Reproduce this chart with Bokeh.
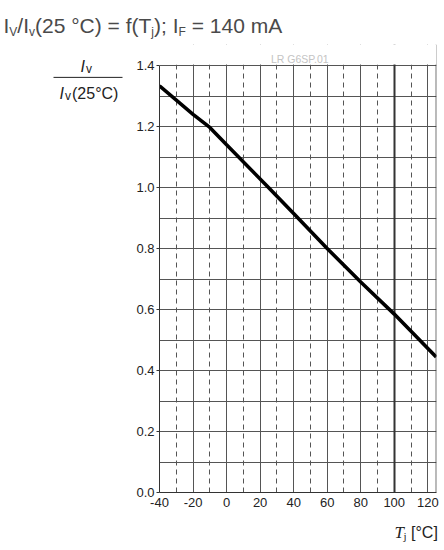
from bokeh.plotting import figure
from bokeh.layouts import column, row
from bokeh.models import (Label, Grid, FixedTicker, PrintfTickFormatter, Span,
                          BoxAnnotation, ColumnDataSource, Range1d)
from bokeh.core.properties import value
from bokeh.embed import file_html
from bokeh.resources import INLINE

# ---- data ----
t_j = [-40, -20, -10, 0, 25, 40, 60, 80, 100, 125]
iv_rel = [1.333, 1.24, 1.197, 1.14, 1.0, 0.915, 0.80, 0.69, 0.585, 0.444]
x_ticks = [-40, -20, 0, 20, 40, 60, 80, 100, 120]
x_dash = [-30, -10, 10, 30, 50, 70, 90, 110]
y_ticks = [0.0, 0.2, 0.4, 0.6, 0.8, 1.0, 1.2, 1.4]
y_grid = [0.1, 0.2, 0.3, 0.4, 0.5, 0.6, 0.7, 0.8, 0.9, 1.0, 1.1, 1.2, 1.3, 1.4]
x_lo, x_hi = -40, 125
y_lo, y_hi = 0.0, 1.4

# ---- layout (page pixels) ----
W = 442
TOP = 44          # height of title strip
MID_B = 514       # bottom of main row
H = 548
FL, FT, FR, FB = 158, 65, 436, 492   # plot frame edges
LEFT_W = 133

SANS = "Liberation Sans"
SERIF = "Liberation Serif"
GRID_C = "#555555"
TXT_C = "#222222"


def strip(x0, y0, w, h):
    f = figure(width=w, height=h, output_backend="svg", toolbar_location=None,
               x_range=Range1d(x0, x0 + w), y_range=Range1d(y0 + h, y0),
               x_axis_location=None, y_axis_location=None, min_border=0,
               background_fill_color="white", border_fill_color="white")
    f.min_border_left = f.min_border_right = 0
    f.min_border_top = f.min_border_bottom = 0
    f.outline_line_color = None
    f.grid.visible = False
    return f


def put(f, x, y, txt, size, style="normal", font=SANS, color=TXT_C,
        align="left", baseline="alphabetic"):
    f.text(x=[x], y=[y], text=[txt], text_font=value(font),
           text_font_size=value(f"{size}px"), text_font_style=style,
           text_color=color, text_align=align, text_baseline=baseline)


# ---- main plot ----
px_per_y = (FB - FT) / (y_hi - y_lo)
y_top = y_hi + (FT - TOP) / px_per_y
p = figure(width=W - LEFT_W, height=MID_B - TOP, output_backend="svg",
           toolbar_location=None,
           x_range=Range1d(x_lo, x_hi + 0.2), y_range=Range1d(y_lo, y_top),
           min_border_left=FL - LEFT_W, min_border_top=0,
           min_border_right=W - FR, min_border_bottom=MID_B - FB,
           background_fill_color="white", border_fill_color="white")
p.outline_line_color = None

p.xaxis.ticker = FixedTicker(ticks=x_ticks)
p.xaxis.formatter = PrintfTickFormatter(format="%d")
p.yaxis.ticker = FixedTicker(ticks=y_ticks)
p.yaxis.formatter = PrintfTickFormatter(format="%.1f")
p.yaxis.bounds = (y_lo, y_hi)
for ax in (p.xaxis[0], p.yaxis[0]):
    ax.axis_line_color = "#333333"
    ax.major_tick_line_color = "#333333"
    ax.minor_tick_line_color = None
    ax.major_tick_in = 0
    ax.major_label_text_font = SANS
    ax.major_label_text_font_size = "13px"
    ax.major_label_text_color = TXT_C
p.xaxis.major_tick_out = 0
p.xaxis.major_label_standoff = 5
p.yaxis.major_tick_out = 3
p.yaxis.major_label_standoff = 2

p.xgrid.ticker = FixedTicker(ticks=[t for t in x_ticks if t != 100])
p.xgrid.grid_line_color = GRID_C
p.ygrid.ticker = FixedTicker(ticks=y_grid)
p.ygrid.grid_line_color = GRID_C
p.add_layout(Grid(dimension=0, ticker=FixedTicker(ticks=x_dash),
                  grid_line_color=GRID_C, grid_line_dash="5 4"))
p.add_layout(Grid(dimension=0, ticker=FixedTicker(ticks=[100]),
                  grid_line_color="#333333", grid_line_width=2))
p.add_layout(Span(location=x_hi, dimension="height", line_color="#333333",
                  line_width=1))

src = ColumnDataSource(dict(t=t_j, v=iv_rel))
p.line("t", "v", source=src, line_color="black", line_width=3.6)

# blank area above the chart frame (holds the drawing id)
p.add_layout(BoxAnnotation(bottom=y_hi + 1.0 / px_per_y, fill_color="white",
                           fill_alpha=1.0, line_color=None))
p.add_layout(Label(x=x_lo + (299 - FL) * (x_hi - x_lo) / (FR - FL),
                   y=y_hi + (FT - 58) / px_per_y, text="LR G6SP.01",
                   text_font=SANS, text_font_size="10.5px", text_color="#c4c4c4",
                   text_align="center", text_baseline="middle"))

# ---- title strip ----
top = strip(0, 0, W, TOP)
ADV = {"I": 278, "V": 667, "v": 500, "/": 278, "(": 333, ")": 333, "2": 556,
       "5": 556, " ": 278, "°": 400, "C": 722, "=": 584, "f": 278, "T": 611,
       "j": 222, ";": 278, "F": 611, "1": 556, "4": 556, "0": 556, "m": 833,
       "A": 667}
title_parts = [("I", False), ("V", True), ("/I", False), ("v", True),
               ("(25 °C) = f(T", False), ("j", True), ("); I", False),
               ("F", True), (" = 140 mA", False)]
MAIN, SUB = 21, 12
xpos = 3.0
for txt, sub in title_parts:
    fs = SUB if sub else MAIN
    lead = len(txt) - len(txt.lstrip(" "))
    xpos += lead * ADV[" "] * fs / 1000.0
    body = txt.strip(" ")
    put(top, xpos, 31.5 if sub else 25, body, fs, color="#4a4a4a")
    xpos += sum(ADV.get(c, 556) for c in body) * fs / 1000.0

# ---- y-label strip (fraction) ----
left = strip(0, TOP, LEFT_W, MID_B - TOP)
put(left, 80, 67, "I", 16, "italic")
put(left, 85.5, 70, "v", 12)
left.segment(x0=[53], y0=[78.5], x1=[122], y1=[78.5], line_color=TXT_C,
             line_width=1)
put(left, 59, 95, "I", 16, "italic")
put(left, 64.5, 98, "v", 12)
put(left, 71.5, 95, "(25°C)", 16)

# ---- x-label strip ----
bot = strip(0, MID_B, W, H - MID_B)
put(bot, 394, 532, "T", 17, "italic", SERIF)
put(bot, 403, 535, "j", 11, "normal", SERIF)
put(bot, 410.5, 532, "[°C]", 16)

layout = column(top, row(left, p), bot)
open("out.html", "w").write(file_html(layout, INLINE))
